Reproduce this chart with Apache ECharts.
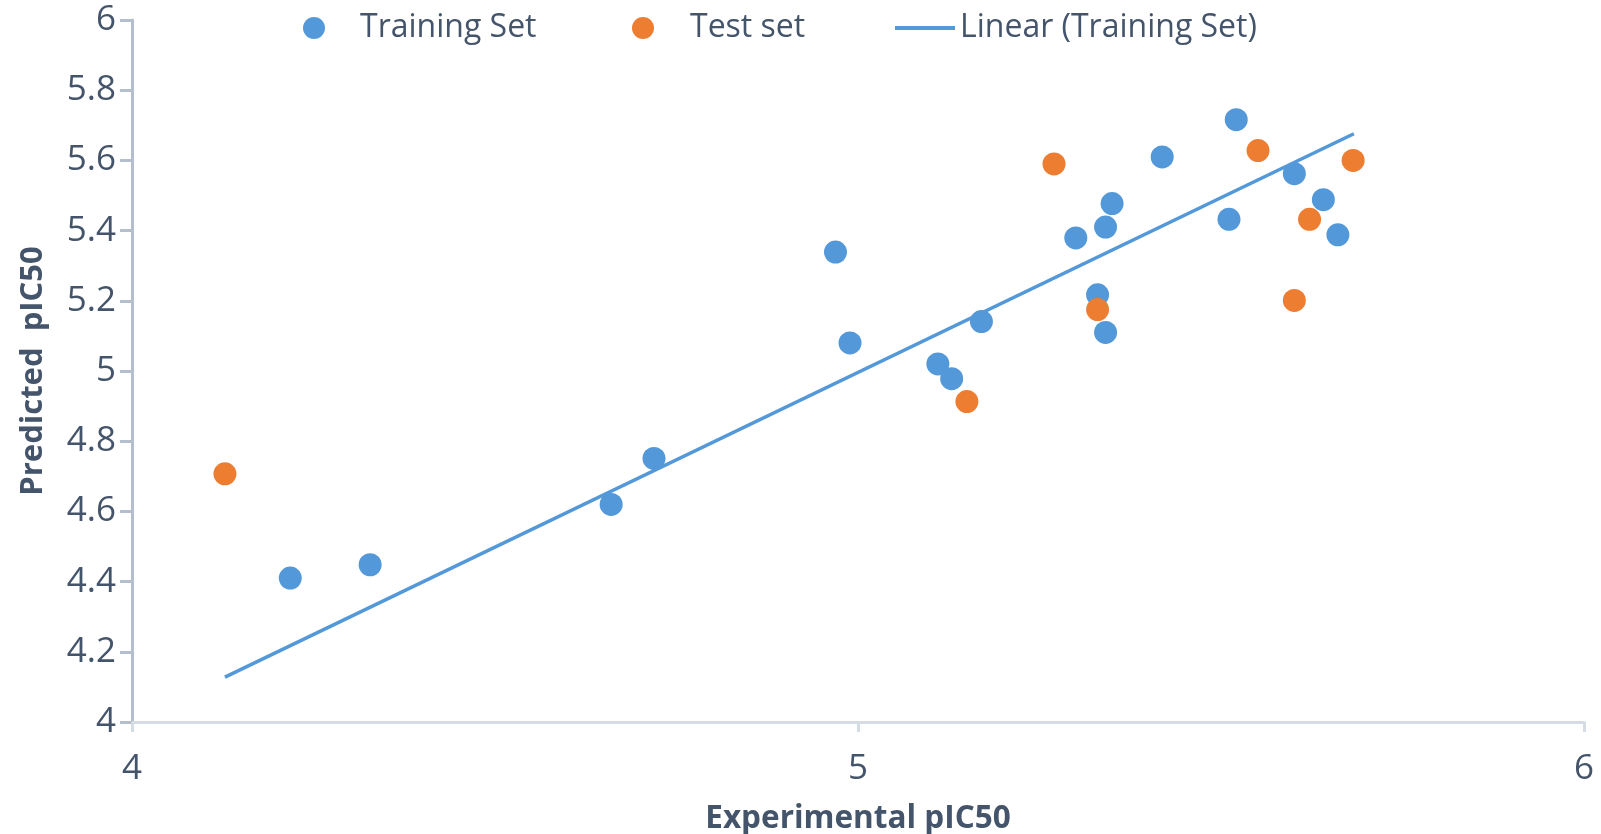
<!DOCTYPE html>
<html>
<head>
<meta charset="utf-8">
<title>Experimental vs Predicted pIC50</title>
<script src="https://cdn.jsdelivr.net/npm/echarts@6/dist/echarts.min.js"></script>
<style>
  html, body { margin: 0; padding: 0; background: #fff; }
  #chart { width: 1601px; height: 834px; }
</style>
</head>
<body>
<div id="chart"></div>
<script>
// training set points
const trainX = [4.218, 4.328, 4.660, 4.719, 4.969, 4.989, 5.110, 5.129, 5.170, 5.300,
                5.330, 5.341, 5.341, 5.350, 5.419, 5.511, 5.521, 5.601, 5.641, 5.661];
const trainY = [4.410, 4.448, 4.620, 4.751, 5.339, 5.080, 5.020, 4.978, 5.141, 5.379,
                5.217, 5.110, 5.410, 5.477, 5.610, 5.432, 5.716, 5.562, 5.488, 5.388];
// test set points
const testX = [4.128, 5.150, 5.270, 5.330, 5.551, 5.601, 5.622, 5.682];
const testY = [4.707, 4.913, 5.590, 5.175, 5.628, 5.201, 5.432, 5.600];
// linear trend line ends
const trendX = [4.128, 5.683];
const trendY = [4.128, 5.676];

const seriesNames = ["Training Set", "Test set", "Linear (Training Set)"];

const textColor = "#44546A";
const font = "'Open Sans', 'DejaVu Sans', sans-serif";

function pairs(xs, ys) {
  return xs.map((x, i) => [x, ys[i]]);
}

const chart = echarts.init(document.getElementById("chart"));

const legendBase = {
  top: 7,
  itemHeight: 22,
  selectedMode: false,
  textStyle: { color: textColor, fontSize: 32, fontFamily: font }
};

const option = {
  animation: false,
  backgroundColor: "#ffffff",
  grid: { left: 132, right: 17, top: 20, bottom: 112, outerBoundsMode: "none" },
  legend: [
    Object.assign({}, legendBase, {
      left: 298, itemWidth: 22, data: [seriesNames[0]],
      textStyle: Object.assign({}, legendBase.textStyle, { padding: [0, 0, 0, 30] })
    }),
    Object.assign({}, legendBase, {
      left: 627, itemWidth: 22, data: [seriesNames[1]],
      textStyle: Object.assign({}, legendBase.textStyle, { padding: [0, 0, 0, 31] })
    }),
    // trend line entry: plain bar icon, no marker
    Object.assign({}, legendBase, {
      left: 890, itemWidth: 60, itemHeight: 4,
      data: [{ name: seriesNames[2], icon: "rect" }]
    })
  ],
  xAxis: {
    type: "value",
    min: 4,
    max: 6,
    interval: 1,
    name: "Experimental pIC50",
    nameLocation: "middle",
    nameGap: 81,
    nameTextStyle: { color: textColor, fontSize: 31.5, fontWeight: "bold", fontFamily: font },
    axisLine: { show: true, lineStyle: { color: "#D6DCE4", width: 3 } },
    axisTick: { show: true, length: 10, lineStyle: { color: "#D6DCE4", width: 3 } },
    axisLabel: { color: textColor, fontSize: 35, fontFamily: font, margin: 30 },
    splitLine: { show: false }
  },
  yAxis: {
    type: "value",
    min: 4,
    max: 6,
    interval: 0.2,
    name: "Predicted  pIC50",
    nameLocation: "middle",
    nameRotate: 90,
    nameGap: 83,
    nameTextStyle: { color: textColor, fontSize: 31, fontWeight: "bold", fontFamily: font },
    axisLine: { show: true, lineStyle: { color: "#B4BECC", width: 3 } },
    axisTick: { show: true, length: 12, lineStyle: { color: "#B4BECC", width: 3 } },
    axisLabel: { color: textColor, fontSize: 35, fontFamily: font, margin: 16 },
    splitLine: { show: false }
  },
  series: [
    {
      name: seriesNames[0],
      type: "scatter",
      symbol: "circle",
      symbolSize: 23,
      itemStyle: { color: "#5398D8", opacity: 1 },
      data: pairs(trainX, trainY)
    },
    {
      name: seriesNames[1],
      type: "scatter",
      symbol: "circle",
      symbolSize: 23,
      itemStyle: { color: "#ED7D31", opacity: 1 },
      data: pairs(testX, testY)
    },
    {
      name: seriesNames[2],
      type: "line",
      symbol: "none",
      lineStyle: { color: "#5398D8", width: 3.5 },
      itemStyle: { color: "#5398D8" },
      data: pairs(trendX, trendY)
    }
  ]
};

chart.setOption(option);
</script>
</body>
</html>
